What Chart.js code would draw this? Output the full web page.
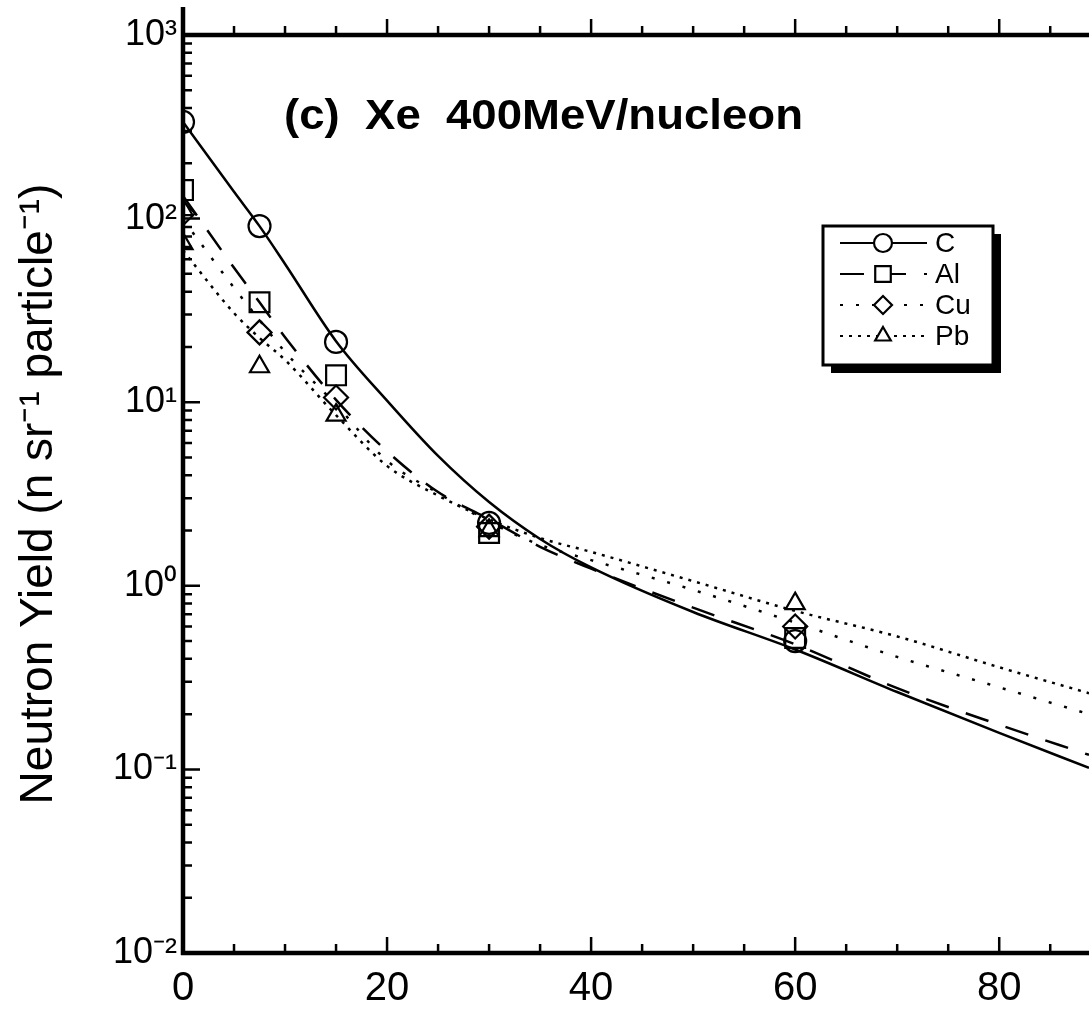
<!DOCTYPE html>
<html>
<head>
<meta charset="utf-8">
<script src="https://cdn.jsdelivr.net/npm/chart.js@4.4.0/dist/chart.umd.min.js"></script>
<style>
html, body { margin: 0; padding: 0; background: #fff; }
#wrap { width: 1089px; height: 1010px; }
</style>
</head>
<body>
<div id="wrap"><canvas id="yieldChart" width="1089" height="1010"></canvas></div>
<script>
// measured points (angle in degrees)
const measAngles = [0, 7.5, 15, 30, 60];
const measC  = [336, 91, 21.3, 2.2, 0.50];
const measAl = [143, 35, 14, 1.94, 0.52];
const measCu = [107, 24, 10.6, 2.1, 0.60];
const pbAngles = [0, 0, 7.5, 15, 30, 60];
const measPb = [112, 73, 15.6, 8.5, 2.0, 0.80];

// fitted curves
const fitAngles = [0, 5, 7.5, 10, 15, 20, 25, 30, 35, 40, 50, 60, 70, 80, 88.8];
const fitC  = [336, 140, 91, 56.6, 21.5, 10.2, 5.1, 2.86, 1.80, 1.26, 0.72, 0.45, 0.264, 0.158, 0.102];
const fitAl = [133, 54, 35, 22.6, 10.3, 5.4, 3.24, 2.31, 1.63, 1.24, 0.76, 0.48, 0.277, 0.175, 0.12];
const fitCu = [99, 42, 28, 18.8, 9.7, 4.8, 3.2, 2.23, 1.67, 1.38, 0.95, 0.63, 0.41, 0.28, 0.20];
const fitPb = [67, 30.6, 22.4, 17, 8.5, 4.5, 3.1, 2.3, 1.82, 1.53, 1.06, 0.73, 0.53, 0.36, 0.26];

const xTicks = [0, 20, 40, 60, 80];
const yTickValues = [0.01, 0.1, 1, 10, 100, 1000];
const yTickLabels = ['10\u207B\u00B2', '10\u207B\u00B9', '10\u2070', '10\u00B9', '10\u00B2', '10\u00B3'];
const targets = ['C', 'Al', 'Cu', 'Pb'];
const panelTitle = '(c)  Xe  400MeV/nucleon';
const yTitle = 'Neutron Yield (n sr\u207B\u00B9 particle\u207B\u00B9)';

const FONT = "'Liberation Sans', Arial, Helvetica, sans-serif";
const styles = {
  C:  { dash: [], marker: 'circle', radius: 11 },
  Al: { dash: [24, 18], marker: 'rect', radius: 14 },
  Cu: { dash: [3, 13], marker: 'rectRot', radius: 12 },
  Pb: { dash: [3, 6], marker: 'triangle', radius: 11 }
};

const pairs = (xs, ys) => xs.map((x, i) => ({ x: x, y: ys[i] }));

function curve(name, ys) {
  return {
    label: name + ' fit', data: pairs(fitAngles, ys),
    borderColor: '#000', borderWidth: 2.5, borderDash: styles[name].dash,
    pointRadius: 0, fill: false, cubicInterpolationMode: 'monotone'
  };
}
function marks(name, xs, ys) {
  return {
    label: name, data: pairs(xs, ys), showLine: false,
    pointStyle: styles[name].marker, pointRadius: styles[name].radius,
    pointBorderColor: '#000', pointBackgroundColor: 'rgba(0,0,0,0)', pointBorderWidth: 2.2
  };
}

// axes frame with inward ticks like the original
const frame = {
  id: 'frame',
  afterDraw(chart) {
    const { ctx, chartArea: a, scales: { x, y } } = chart;
    ctx.save();
    ctx.strokeStyle = '#000';
    ctx.lineWidth = 4.5;
    ctx.beginPath();
    ctx.moveTo(a.left, a.bottom + 2); ctx.lineTo(a.left, 7);
    ctx.moveTo(a.left - 2, a.top); ctx.lineTo(a.right, a.top);
    ctx.moveTo(a.left - 2, a.bottom); ctx.lineTo(a.right, a.bottom);
    ctx.stroke();
    ctx.lineWidth = 2.5;
    ctx.beginPath();
    for (let v = 5; v < x.max; v += 5) {
      const px = x.getPixelForValue(v);
      const len = v % 20 === 0 ? 16 : 9;
      ctx.moveTo(px, a.bottom); ctx.lineTo(px, a.bottom - len);
      ctx.moveTo(px, a.top); ctx.lineTo(px, a.top - len);
    }
    for (let e = -2; e < 3; e++) {
      for (let m = 1; m < 10; m++) {
        const v = m * Math.pow(10, e);
        if (v <= y.min) continue;
        const py = y.getPixelForValue(v);
        const len = m === 1 ? 17 : 9;
        ctx.moveTo(a.left, py); ctx.lineTo(a.left + len, py);
      }
    }
    ctx.stroke();
    ctx.restore();
  }
};

// panel label and boxed legend
const annot = {
  id: 'annot',
  afterDraw(chart) {
    const ctx = chart.ctx;
    ctx.save();
    ctx.fillStyle = '#000';
    ctx.font = 'bold 42px ' + FONT;
    ctx.textBaseline = 'alphabetic';
    const w = ctx.measureText(panelTitle).width;
    ctx.translate(284, 129);
    ctx.scale(519 / w, 1);
    ctx.fillText(panelTitle, 0, 0);
    ctx.restore();

    // legend box with drop shadow
    const bx = 823, by = 226, bw = 170, bh = 139;
    ctx.save();
    ctx.fillStyle = '#000';
    ctx.fillRect(bx + 8, by + 8, bw, bh);
    ctx.fillStyle = '#fff';
    ctx.fillRect(bx, by, bw, bh);
    ctx.strokeStyle = '#000';
    ctx.lineWidth = 3;
    ctx.strokeRect(bx, by, bw, bh);
    const rows = [243, 274, 305, 336];
    targets.forEach((t, i) => {
      const yy = rows[i];
      ctx.strokeStyle = '#000';
      ctx.lineWidth = 2.2;
      ctx.setLineDash(styles[t].dash);
      ctx.beginPath();
      ctx.moveTo(840, yy); ctx.lineTo(927, yy);
      ctx.stroke();
      ctx.setLineDash([]);
      ctx.fillStyle = '#fff';
      Chart.helpers.drawPoint(ctx, {
        pointStyle: styles[t].marker, radius: t === 'Al' ? 11 : 9, rotation: 0, borderWidth: 2
      }, 883, yy);
      ctx.fillStyle = '#000';
      ctx.font = '28px ' + FONT;
      ctx.textBaseline = 'middle';
      ctx.fillText(t, 935, yy + 1);
    });
    ctx.restore();
  }
};

const ctx = document.getElementById('yieldChart').getContext('2d');
const yieldChart = new Chart(ctx, {
  type: 'line',
  data: {
    datasets: [
      curve('C', fitC), curve('Al', fitAl), curve('Cu', fitCu), curve('Pb', fitPb),
      marks('C', measAngles, measC), marks('Al', measAngles, measAl),
      marks('Cu', measAngles, measCu), marks('Pb', pbAngles, measPb)
    ]
  },
  options: {
    responsive: false,
    animation: false,
    layout: { autoPadding: false, padding: { top: 35, right: 0, bottom: 0, left: 0 } },
    plugins: { legend: { display: false }, tooltip: { enabled: false } },
    scales: {
      x: {
        type: 'linear', min: 0, max: 88.8,
        grid: { display: false, drawTicks: false }, border: { display: false },
        afterBuildTicks: s => { s.ticks = xTicks.map(v => ({ value: v })); },
        afterFit: s => { s.height = 57; s.paddingLeft = 0; s.paddingRight = 0; },
        ticks: { color: '#000', font: { family: FONT, size: 40 }, padding: 12, maxRotation: 0, autoSkip: false }
      },
      y: {
        type: 'logarithmic', min: 0.01, max: 1000,
        grid: { display: false, drawTicks: false }, border: { display: false },
        afterBuildTicks: s => { s.ticks = yTickValues.map(v => ({ value: v, major: true })); },
        afterFit: s => { s.width = 183; s.paddingTop = 0; s.paddingBottom = 0; },
        ticks: {
          color: '#000', font: { family: FONT, size: 36 }, padding: 6, autoSkip: false,
          callback: v => yTickLabels[yTickValues.indexOf(v)]
        },
        title: {
          display: true, text: yTitle, color: '#000',
          font: { family: FONT, size: 46 }, padding: { top: 12, bottom: 0 }
        }
      }
    }
  },
  plugins: [frame, annot]
});
</script>
</body>
</html>
